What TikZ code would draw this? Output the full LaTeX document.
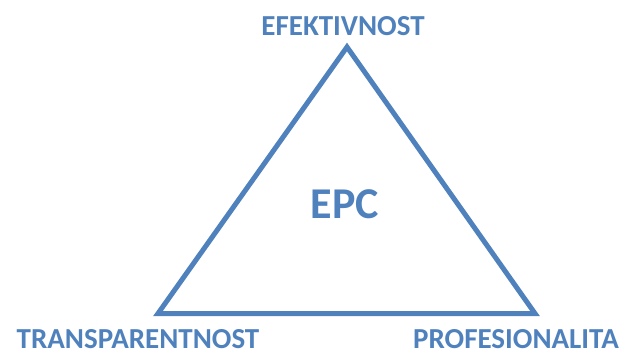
\documentclass[tikz,border=0pt]{standalone}
\usepackage{fontspec}
\setmainfont{Carlito}
\definecolor{epcBlue}{HTML}{4F81BD}

\begin{document}
\begin{tikzpicture}
  [x=1pt,y=-1pt,
  lab/.style={text=epcBlue,font=\fontsize{29}{32}\selectfont\bfseries,inner sep=0pt},
  big/.style={lab,font=\fontsize{44}{48}\selectfont\bfseries},
  side/.style={draw=epcBlue,line width=5pt,line join=miter}]

  \useasboundingbox (0,0) rectangle (625,353);

  \coordinate (top) at (347,47);
  \coordinate (left) at (158,313.5);
  \coordinate (right) at (535,313.5);

  \draw[side] (top) -- (right) -- (left) -- cycle;

  \node[big] (epc) at (345,204) {EPC};

  \node[lab] (eff) at (343,26) {EFEKTIVNOST};
  \node[lab] (tra) at (138,339) {TRANSPARENTNOST};
  \node[lab] (pro) at (516,339) {PROFESIONALITA};
\end{tikzpicture}
\end{document}
